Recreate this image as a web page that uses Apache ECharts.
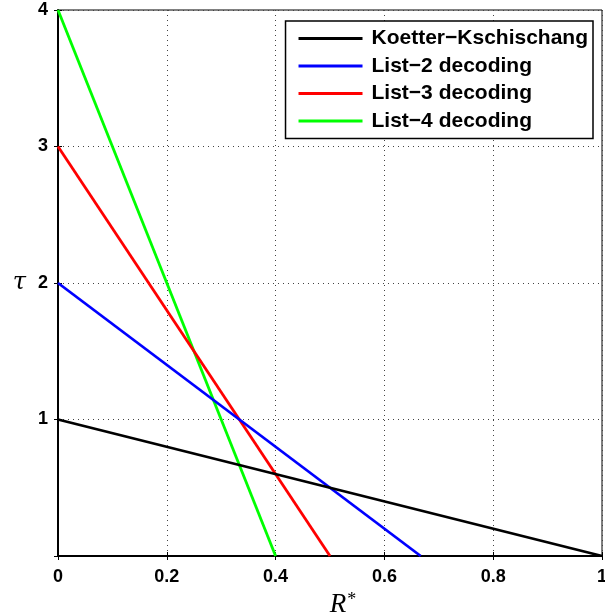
<!DOCTYPE html>
<html><head><meta charset="utf-8">
<script src="https://cdn.jsdelivr.net/npm/echarts@6/dist/echarts.min.js"></script>
<style>html,body{margin:0;padding:0;background:#fff}#c{width:605px;height:613px}</style>
</head><body><div id="c"></div>
<script>
var seriesNames = ['Koetter\u2212Kschischang','List\u22122 decoding','List\u22123 decoding','List\u22124 decoding'];
var seriesColors = ['#000000','#0000ff','#ff0000','#00ff00'];
var kk = [[0,1],[1,0]];
var list2 = [[0,2],[0.6667,0]];
var list3 = [[0,3],[0.5,0]];
var list4 = [[0,4],[0.4,0]];
var xTicks = [0,0.2,0.4,0.6,0.8,1];
var yTicks = [1,2,3,4];
var allData = [kk,list2,list3,list4];

var chart = echarts.init(document.getElementById('c'));
var lab = {fontFamily:'Liberation Sans, Arial, sans-serif',fontWeight:'bold',fontSize:18,color:'#000'};
var split = {show:true,lineStyle:{type:[1,4],color:'#444',width:1}};
chart.setOption({
  animation:false,
  grid:{left:58,right:3,top:10,bottom:57,show:true,borderColor:'#000',borderWidth:1,containLabel:false,outerBoundsMode:'none'},
  legend:{
    orient:'vertical',right:12,top:21,
    backgroundColor:'#fff',borderColor:'#000',borderWidth:1.5,
    padding:[7,5,7,13],itemGap:6.5,itemWidth:68,itemHeight:20,
    icon:'path://M0,8.5L64,8.5L64,11.5L0,11.5Z M0,0L0.01,0L0.01,0.01Z M68,20L68.01,20L68.01,19.99Z',
    textStyle:{fontFamily:'Liberation Sans, Arial, sans-serif',fontWeight:'bold',fontSize:21,color:'#000',lineHeight:20},
    data:seriesNames.map(function(n,i){return {name:n,itemStyle:{color:seriesColors[i]}};})
  },
  xAxis:[{
    type:'value',min:0,max:1,interval:0.2,
    axisLine:{show:true,lineStyle:{color:'#000',width:2}},
    axisTick:{show:true,inside:true,length:4,lineStyle:{color:'#000'}},
    axisLabel:Object.assign({margin:12,formatter:function(v){return xTicks.indexOf(v)>=0?String(v):'';}},lab),
    splitLine:split,
    name:'{a|R}{b|*}',nameLocation:'middle',nameGap:27,
    nameTextStyle:{padding:[0,0,0,26],rich:{a:{fontFamily:'Liberation Serif, serif',fontStyle:'italic',fontSize:27,color:'#000',lineHeight:28},
      b:{fontFamily:'Liberation Serif, serif',fontSize:18,color:'#000',verticalAlign:'top',lineHeight:28,padding:[0,0,12,1]}}}
  },{
    type:'value',position:'top',min:0,max:1,interval:0.2,
    axisLine:{show:false},axisTick:{show:true,inside:true,length:4,lineStyle:{color:'#000'}},
    axisLabel:{show:false},splitLine:{show:false}
  }],
  yAxis:[{
    type:'value',min:0,max:4,interval:1,
    axisLine:{show:true,lineStyle:{color:'#000',width:2}},
    axisTick:{show:true,inside:true,length:4,lineStyle:{color:'#000'}},
    axisLabel:Object.assign({margin:10,formatter:function(v){return yTicks.indexOf(v)>=0?String(v):'';}},lab),
    splitLine:split,
    name:'\u03c4',nameLocation:'middle',nameGap:32,nameRotate:0,
    nameTextStyle:{fontFamily:'DejaVu Serif, serif',fontStyle:'italic',fontSize:24,color:'#000'}
  },{
    type:'value',position:'right',min:0,max:4,interval:1,
    axisLine:{show:false},axisTick:{show:true,inside:true,length:4,lineStyle:{color:'#000'}},
    axisLabel:{show:false},splitLine:{show:false}
  }],
  series:allData.map(function(d,i){
    return {name:seriesNames[i],type:'line',data:d,symbol:'none',
      lineStyle:{color:seriesColors[i],width:2.8},itemStyle:{color:seriesColors[i]},z:2+(3-i)};
  })
});
</script></body></html>
